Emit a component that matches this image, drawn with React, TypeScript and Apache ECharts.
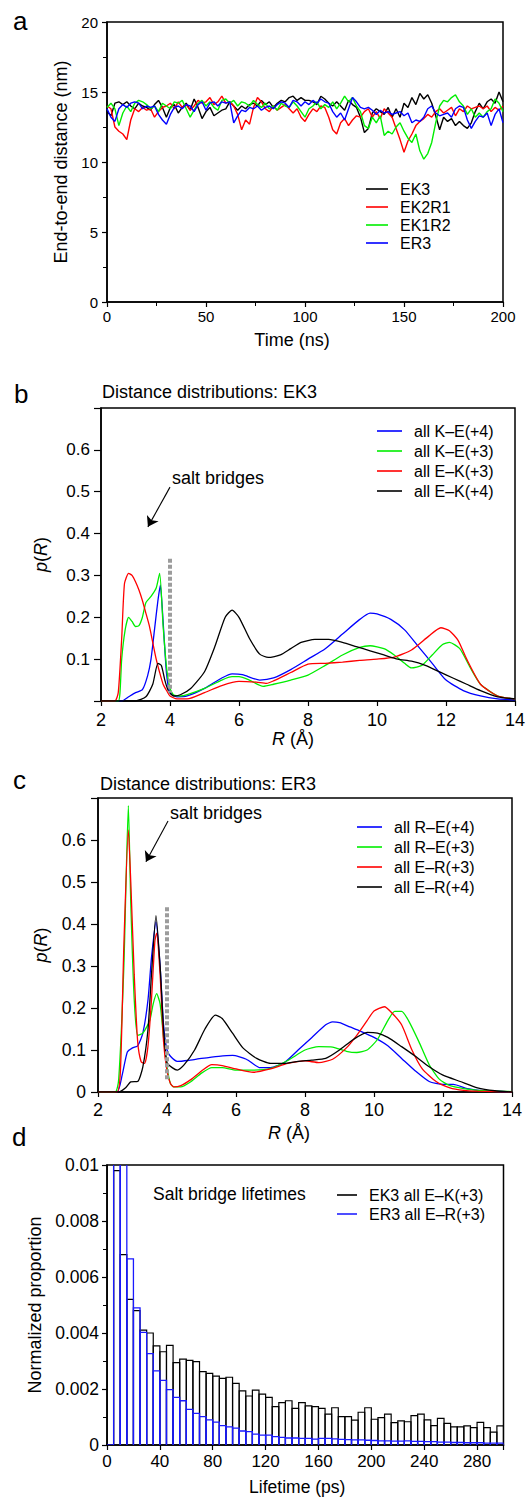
import React, { useEffect, useRef } from 'react';
import * as echarts from 'echarts';

const FONT = '"Liberation Sans", Arial, Helvetica, sans-serif';

// ---------- Panel a: end-to-end distance (nm) vs time (ns) ----------
const timeNs = [
  0, 2, 4, 6, 8, 10, 12, 14, 16, 18, 20, 22, 24, 26, 28, 30, 32, 34, 36, 38,
  40, 42, 44, 46, 48, 50, 52, 54, 56, 58, 60, 62, 64, 66, 68, 70, 72, 74, 76, 78,
  80, 82, 84, 86, 88, 90, 92, 94, 96, 98, 100, 102, 104, 106, 108, 110, 112, 114, 116, 118,
  120, 122, 124, 126, 128, 130, 132, 134, 136, 138, 140, 142, 144, 146, 148, 150, 152, 154, 156, 158,
  160, 162, 164, 166, 168, 170, 172, 174, 176, 178, 180, 182, 184, 186, 188, 190, 192, 194, 196, 198, 200,
];
const ek3Dist = [
  13.6, 13.3, 14.2, 14.3, 14.1, 14.3, 14.0, 13.8, 14.2, 14.0,
  13.9, 13.7, 14.1, 14.4, 13.9, 13.2, 13.9, 14.1, 13.5, 13.9,
  14.2, 13.7, 14.5, 13.9, 13.1, 13.6, 13.9, 13.3, 13.5, 13.7,
  13.8, 14.3, 14.0, 13.7, 14.0, 13.8, 14.1, 14.2, 14.0, 14.4,
  14.1, 14.3, 13.9, 14.2, 14.4, 14.3, 14.6, 14.7, 14.4, 14.6,
  14.4, 14.4, 14.3, 14.1, 14.7, 14.5, 14.2, 14.0, 14.3, 14.0,
  13.7, 14.4, 14.1, 13.9, 13.2, 12.1, 12.4, 13.5, 13.8, 13.6,
  13.4, 13.9, 13.2, 13.8, 13.2, 14.2, 13.9, 14.6, 14.1, 14.9,
  14.5, 14.8, 14.2, 13.3, 12.3, 13.2, 12.9, 13.1, 12.6, 12.9,
  12.6, 12.4, 12.8, 13.6, 14.2, 13.8, 14.3, 14.5, 14.2, 15.0,
  14.3,
];
const ek2r1Dist = [
  14.0, 13.8, 12.5, 12.2, 12.0, 11.6, 13.0, 13.8, 13.6, 13.9,
  13.7, 13.8, 13.2, 13.6, 13.9, 14.0, 14.2, 13.8, 14.3, 13.9,
  14.1, 13.7, 14.0, 14.4, 14.2, 14.3, 14.6, 14.1, 14.3, 14.7,
  14.2, 14.3, 14.0, 13.4, 12.3, 13.0, 12.7, 13.9, 14.6, 14.3,
  13.8, 13.6, 14.0, 13.7, 13.9, 14.1, 13.8, 13.5, 13.8, 13.2,
  12.9, 13.4, 13.8, 13.6, 14.0, 13.9, 13.2, 12.3, 12.0, 12.8,
  13.1, 12.6, 13.0, 13.3, 13.2, 13.6, 13.8, 13.2, 13.6, 13.1,
  13.8, 13.5, 13.2, 12.4, 11.6, 10.7, 11.5, 12.0, 12.6, 12.9,
  13.1, 13.4, 13.2, 13.6, 13.8, 13.5, 13.7, 13.9, 13.3, 13.8,
  13.6, 14.0, 13.8, 13.9, 14.0, 13.8, 14.0, 13.6, 13.9, 13.7,
  14.0,
];
const ek1r2Dist = [
  13.9, 14.2, 13.8, 12.6, 13.5, 14.0, 13.6, 14.2, 14.4, 14.3,
  14.1, 13.8, 14.0, 13.6, 14.2, 14.0, 13.8, 14.3, 14.2, 14.4,
  13.8, 13.2, 13.7, 14.2, 14.4, 14.0, 14.3, 13.9, 13.7, 14.4,
  14.5, 14.2, 14.4, 14.0, 14.3, 14.2, 14.0, 14.4, 14.1, 13.9,
  14.2, 13.8, 14.0, 13.7, 14.2, 14.0, 13.9, 14.3, 14.0, 13.6,
  13.2, 13.8, 14.0, 14.3, 13.8, 14.1, 13.9, 14.3, 13.8, 14.2,
  14.7, 14.3, 14.6, 14.0, 13.6, 12.6, 12.4, 13.2, 12.8, 13.3,
  11.9, 12.2, 12.0, 12.5, 12.8, 12.2, 11.7, 11.4, 12.0, 10.8,
  10.2, 10.6, 11.4, 12.8, 14.0, 14.4, 14.3, 14.6, 14.8, 14.3,
  14.0, 13.4, 13.8, 13.2, 13.5, 13.2, 13.6, 13.8, 14.5, 14.2,
  13.6,
];
const er3Dist = [
  13.8, 13.2, 12.9, 13.8, 14.1, 13.9, 14.2, 14.3, 14.2, 13.8,
  14.0, 13.9, 14.0, 13.4, 13.0, 12.7, 13.4, 13.9, 14.0, 13.8,
  14.1, 14.0, 13.6, 14.1, 14.3, 13.7, 14.2, 14.3, 14.0, 14.3,
  14.2, 14.3, 12.8, 13.3, 13.7, 13.6, 13.9, 13.8, 14.0, 13.7,
  13.9, 14.0, 13.8, 14.1, 14.3, 14.2, 13.9, 14.4, 14.3, 14.0,
  14.3, 14.1, 14.4, 14.2, 14.5, 14.3, 14.2, 13.6, 13.2, 13.5,
  13.0, 13.8, 14.6, 14.3, 13.9, 13.8, 13.9, 13.7, 13.4, 13.7,
  13.5, 13.6, 13.4, 13.5, 13.6, 13.3, 13.5, 12.8, 13.0, 12.9,
  13.2, 13.8, 14.0, 13.5, 13.3, 13.4, 13.5, 13.2, 13.8, 14.0,
  13.9, 13.0, 12.4, 12.9, 13.3, 13.2, 13.5, 12.6, 13.4, 13.8,
  12.8,
];

// ---------- Panel b: distance distributions EK3, [R (Å), p(R)] ----------
const bKE4 = [
  [2, 0], [2.6, 0], [2.8, 0.01], [3.0, 0.02], [3.2, 0.027], [3.35, 0.06], [3.45, 0.1], [3.55, 0.17],
  [3.65, 0.24], [3.72, 0.277], [3.8, 0.19], [3.9, 0.065], [4.0, 0.02], [4.2, 0.01], [4.5, 0.012],
  [5.0, 0.03], [5.5, 0.055], [5.8, 0.065], [6.1, 0.063], [6.6, 0.05], [7.0, 0.055], [7.5, 0.075],
  [8.0, 0.1], [8.5, 0.125], [9.0, 0.16], [9.5, 0.195], [9.8, 0.21], [10.0, 0.208], [10.4, 0.195],
  [10.8, 0.17], [11.2, 0.13], [11.6, 0.09], [12.0, 0.05], [12.5, 0.025], [13.0, 0.012], [13.5, 0.005], [14, 0.003],
];
const bKE3 = [
  [2, 0], [2.5, 0], [2.55, 0.02], [2.6, 0.1], [2.7, 0.17], [2.8, 0.2], [2.9, 0.19], [3.0, 0.178],
  [3.1, 0.18], [3.2, 0.2], [3.3, 0.235], [3.45, 0.25], [3.6, 0.27], [3.7, 0.305], [3.8, 0.18],
  [3.9, 0.08], [4.0, 0.03], [4.1, 0.015], [4.3, 0.012], [4.5, 0.015], [5.0, 0.03], [5.5, 0.05],
  [5.8, 0.058], [6.0, 0.058], [6.3, 0.05], [6.7, 0.035], [7.0, 0.04], [7.5, 0.05], [8.0, 0.062],
  [8.5, 0.085], [9.0, 0.11], [9.5, 0.128], [9.8, 0.132], [10.2, 0.125], [10.5, 0.11], [10.8, 0.09],
  [11.0, 0.079], [11.3, 0.085], [11.6, 0.11], [11.9, 0.135], [12.1, 0.14], [12.4, 0.125], [12.7, 0.08],
  [13.0, 0.04], [13.5, 0.012], [14, 0.005],
];
const bEK3 = [
  [2, 0], [2.4, 0], [2.5, 0.02], [2.6, 0.15], [2.68, 0.28], [2.8, 0.305], [2.9, 0.3], [3.0, 0.285],
  [3.1, 0.265], [3.2, 0.24], [3.3, 0.21], [3.4, 0.18], [3.5, 0.14], [3.6, 0.1], [3.7, 0.068],
  [3.8, 0.04], [3.9, 0.025], [4.0, 0.012], [4.2, 0.005], [4.5, 0.005], [5.0, 0.02], [5.5, 0.037],
  [6.0, 0.047], [6.5, 0.045], [6.8, 0.042], [7.0, 0.048], [7.5, 0.068], [8.0, 0.088], [8.5, 0.09],
  [9.0, 0.093], [9.5, 0.097], [10.0, 0.1], [10.5, 0.105], [11.0, 0.122], [11.5, 0.155], [11.85, 0.175],
  [12.1, 0.168], [12.35, 0.145], [12.6, 0.1], [13.0, 0.04], [13.5, 0.012], [14, 0.005],
];
const bEK4 = [
  [2, 0], [3.0, 0], [3.3, 0.01], [3.5, 0.04], [3.65, 0.09], [3.75, 0.085], [3.85, 0.05], [3.95, 0.025],
  [4.1, 0.012], [4.3, 0.015], [4.6, 0.03], [5.0, 0.07], [5.3, 0.13], [5.6, 0.2], [5.8, 0.217],
  [6.0, 0.2], [6.3, 0.15], [6.6, 0.112], [6.85, 0.104], [7.2, 0.11], [7.5, 0.125], [7.8, 0.14],
  [8.2, 0.147], [8.6, 0.147], [9.0, 0.14], [9.4, 0.13], [9.8, 0.12], [10.2, 0.11], [10.6, 0.1],
  [11.0, 0.095], [11.4, 0.085], [11.8, 0.07], [12.2, 0.055], [12.6, 0.04], [13.0, 0.025], [13.5, 0.01], [14, 0.005],
];
const bCutoff = [[4, 0.34], [4, 0.02]];
const bArrow = [[4.0, 0.511], [3.36, 0.416]];

// ---------- Panel c: distance distributions ER3 ----------
const cRE4 = [
  [2, 0], [2.55, 0], [2.7, 0.04], [2.85, 0.095], [3.0, 0.105], [3.15, 0.11], [3.3, 0.14], [3.45, 0.22],
  [3.55, 0.32], [3.68, 0.405], [3.8, 0.3], [3.9, 0.16], [4.0, 0.1], [4.1, 0.085], [4.3, 0.073],
  [4.6, 0.075], [5.0, 0.08], [5.5, 0.085], [5.9, 0.087], [6.3, 0.078], [6.7, 0.058], [7.0, 0.058],
  [7.4, 0.07], [7.8, 0.1], [8.2, 0.13], [8.6, 0.16], [8.8, 0.167], [9.0, 0.165], [9.3, 0.155],
  [9.6, 0.145], [10.0, 0.13], [10.4, 0.11], [10.8, 0.08], [11.2, 0.05], [11.6, 0.025], [12.0, 0.018],
  [12.3, 0.018], [12.7, 0.008], [13.2, 0.003], [14, 0],
];
const cRE3 = [
  [2, 0], [2.5, 0], [2.6, 0.03], [2.75, 0.3], [2.88, 0.682], [2.95, 0.45], [3.05, 0.22], [3.15, 0.135],
  [3.3, 0.14], [3.5, 0.17], [3.6, 0.21], [3.7, 0.234], [3.8, 0.21], [3.9, 0.13], [4.0, 0.06],
  [4.1, 0.02], [4.2, 0.012], [4.4, 0.012], [4.7, 0.025], [5.0, 0.045], [5.3, 0.058], [5.6, 0.058],
  [6.0, 0.052], [6.5, 0.052], [7.0, 0.056], [7.5, 0.075], [8.0, 0.1], [8.4, 0.108], [8.8, 0.107],
  [9.2, 0.097], [9.5, 0.094], [9.8, 0.1], [10.1, 0.125], [10.4, 0.17], [10.6, 0.192], [10.8, 0.192],
  [11.0, 0.17], [11.3, 0.12], [11.6, 0.065], [11.9, 0.03], [12.2, 0.015], [12.6, 0.008], [13, 0.004], [14, 0.001],
];
const cER3 = [
  [2, 0], [2.55, 0], [2.65, 0.05], [2.75, 0.35], [2.88, 0.624], [2.95, 0.5], [3.05, 0.28], [3.15, 0.12],
  [3.25, 0.072], [3.35, 0.068], [3.45, 0.11], [3.55, 0.22], [3.65, 0.36], [3.7, 0.378], [3.8, 0.28],
  [3.9, 0.12], [4.0, 0.05], [4.1, 0.02], [4.2, 0.012], [4.4, 0.015], [4.7, 0.03], [5.0, 0.05],
  [5.3, 0.065], [5.6, 0.063], [6.0, 0.055], [6.5, 0.047], [7.0, 0.055], [7.5, 0.068], [8.0, 0.074],
  [8.4, 0.07], [8.8, 0.078], [9.2, 0.105], [9.5, 0.135], [9.8, 0.17], [10.0, 0.193], [10.3, 0.203],
  [10.5, 0.19], [10.8, 0.16], [11.1, 0.1], [11.4, 0.055], [11.8, 0.025], [12.2, 0.01], [12.6, 0.004],
  [13, 0.002], [14, 0],
];
const cER4 = [
  [2, 0], [2.6, 0], [2.8, 0.01], [2.95, 0.024], [3.15, 0.025], [3.3, 0.06], [3.45, 0.15], [3.55, 0.28],
  [3.68, 0.42], [3.8, 0.3], [3.9, 0.15], [4.0, 0.07], [4.15, 0.058], [4.3, 0.052], [4.5, 0.065],
  [4.8, 0.1], [5.1, 0.15], [5.4, 0.183], [5.6, 0.175], [5.9, 0.14], [6.2, 0.105], [6.6, 0.08],
  [7.0, 0.068], [7.4, 0.068], [7.8, 0.073], [8.2, 0.076], [8.6, 0.08], [9.0, 0.1], [9.4, 0.125],
  [9.8, 0.142], [10.1, 0.14], [10.4, 0.13], [10.8, 0.108], [11.2, 0.085], [11.6, 0.06], [12.0, 0.04],
  [12.5, 0.025], [13, 0.01], [13.5, 0.003], [14, 0],
];
const cCutoff = [[4, 0.44], [4, 0.03]];
const cArrow = [[4.03, 0.645], [3.39, 0.548]];

// ---------- Panel d: salt bridge lifetime histograms (5 ps bins, bin start in ps) ----------
const binWidthPs = 5;
const lifetimeBinStart = [
  0, 5, 10, 15, 20, 25, 30, 35, 40, 45, 50, 55, 60, 65, 70, 75, 80, 85, 90, 95,
  100, 105, 110, 115, 120, 125, 130, 135, 140, 145, 150, 155, 160, 165, 170, 175, 180, 185, 190, 195,
  200, 205, 210, 215, 220, 225, 230, 235, 240, 245, 250, 255, 260, 265, 270, 275, 280, 285, 290, 295,
];
const ek3Lifetimes = [
  0.02, 0.0098, 0.0068, 0.0052, 0.0048, 0.0041, 0.0040, 0.00354, 0.00333, 0.00356,
  0.00294, 0.00307, 0.00302, 0.00298, 0.00262, 0.00256, 0.00246, 0.00238, 0.00242, 0.0022,
  0.00193, 0.00175, 0.00196, 0.00182, 0.0017, 0.00137, 0.00151, 0.00158, 0.00131, 0.00151,
  0.0014, 0.00137, 0.00131, 0.0011, 0.00133, 0.00101, 0.00101, 0.00089, 0.00117, 0.00133,
  0.00092, 0.00098, 0.0011, 0.0008, 0.00086, 0.00083, 0.00105, 0.0011, 0.0009, 0.00069,
  0.00095, 0.00077, 0.00065, 0.00065, 0.00068, 0.00062, 0.00081, 0.00062, 0.00046, 0.00068,
];
const er3Lifetimes = [
  0, 0.02, 0.02, 0.00665, 0.0049, 0.00402, 0.00326, 0.00265, 0.00231, 0.00198,
  0.0017, 0.00158, 0.00127, 0.00113, 0.00101, 0.0009, 0.00082, 0.00069, 0.00065, 0.0006,
  0.0005, 0.00048, 0.00039, 0.00035, 0.00035, 0.0003, 0.00027, 0.00025, 0.00025, 0.00024,
  0.00024, 0.00021, 0.00024, 0.00024, 0.00022, 0.0002, 0.00019, 0.00018, 0.00018, 0.00017,
  0.00016, 0.00015, 0.00015, 0.00014, 0.00014, 0.00015, 0.00013, 0.00013, 0.00012, 0.00012,
  0.0001, 0.0001, 0.00009, 0.00009, 0.00008, 0.00008, 0.00008, 0.00007, 0.00007, 0.00007,
];

const BLACK = '#000000';
const RED = '#ff0000';
const GREEN = '#00ee00';
const BLUE = '#0000ff';
const HIST_BLUE = '#1a1aff';
const GREY = '#9c9c9c';
const D_YMAX = 0.01;

function axisBase(fontSize: number, margin: number, tickLen = 5) {
  return {
    type: 'value',
    axisLine: { show: true, onZero: false, lineStyle: { color: '#000', width: 1.5 } },
    axisTick: { show: true, inside: false, length: tickLen, lineStyle: { color: '#000', width: 1.2 } },
    splitLine: { show: false },
    axisLabel: { color: '#000', fontSize, fontFamily: FONT, margin },
  };
}

function nameStyle(fontSize: number, padding?: number[]) {
  return {
    color: '#000',
    fontSize,
    fontFamily: FONT,
    padding: padding || 0,
    rich: {
      i: { fontStyle: 'italic', fontSize, fontFamily: FONT, color: '#000' },
    },
  };
}

function lineSeries(name: string, data: number[][], color: string, idx: number) {
  return {
    name,
    type: 'line',
    xAxisIndex: idx,
    yAxisIndex: idx,
    data,
    symbol: 'none',
    showSymbol: false,
    smooth: 0.2,
    color,
    lineStyle: { color, width: 1.3 },
    emphasis: { disabled: true },
    silent: true,
    z: 3,
  };
}

function cutoffSeries(name: string, data: number[][], arrow: number[][], idx: number) {
  return {
    name,
    type: 'line',
    xAxisIndex: idx,
    yAxisIndex: idx,
    data,
    symbol: 'none',
    color: GREY,
    lineStyle: { color: GREY, width: 4, type: [4, 2], cap: 'butt' },
    silent: true,
    z: 4,
    markLine: {
      silent: true,
      symbol: ['none', 'arrow'],
      symbolSize: 10,
      label: { show: false },
      emphasis: { disabled: true },
      lineStyle: { color: '#000', width: 1.1, type: 'solid' },
      itemStyle: { color: '#000' },
      data: [[{ coord: arrow[0] }, { coord: arrow[1] }]],
    },
  };
}

// Outlined histogram bars drawn through the axis scales (api.coord).
function histSeries(name: string, values: number[], color: string, width: number, z: number) {
  return {
    name,
    type: 'custom',
    xAxisIndex: 3,
    yAxisIndex: 3,
    color,
    z,
    silent: true,
    clip: true,
    data: lifetimeBinStart.map((s, i) => [s, values[i]]),
    renderItem: (params: any, api: any) => {
      const start = api.value(0);
      const v = api.value(1);
      const bottomLeft = api.coord([start, 0]);
      const clipped = v > D_YMAX;
      const topRight = api.coord([start + binWidthPs, clipped ? D_YMAX : v]);
      const x0 = bottomLeft[0];
      const x1 = topRight[0];
      const yb = bottomLeft[1];
      const yt = clipped ? topRight[1] - 3 : topRight[1];
      return {
        type: 'polyline',
        shape: { points: [[x0, yb], [x0, yt], [x1, yt], [x1, yb]] },
        style: { fill: 'none', stroke: color, lineWidth: width },
        clipPath: {
          type: 'rect',
          shape: {
            x: params.coordSys.x,
            y: params.coordSys.y,
            width: params.coordSys.width,
            height: params.coordSys.height,
          },
        },
      };
    },
  };
}

function legendBase(left: number, top: number, itemWidth: number, fontSize: number, itemGap: number) {
  return {
    orient: 'vertical',
    left,
    top,
    padding: 0,
    icon: 'rect',
    itemWidth,
    itemHeight: 1.6,
    itemGap,
    selectedMode: false,
    itemStyle: { borderWidth: 0 },
    textStyle: { color: '#000', fontSize, fontFamily: FONT, padding: [0, 0, 0, 7] },
  };
}

function textEl(text: string, x: number, y: number, size: number) {
  return {
    type: 'text',
    x,
    y,
    silent: true,
    style: {
      text,
      font: `${size}px ${FONT}`,
      fill: '#000',
      textAlign: 'left',
      textVerticalAlign: 'middle',
    },
  };
}

function buildOption() {
  const aSeries = [
    { name: 'EK3', arr: ek3Dist, color: BLACK },
    { name: 'EK2R1', arr: ek2r1Dist, color: RED },
    { name: 'EK1R2', arr: ek1r2Dist, color: GREEN },
    { name: 'ER3', arr: er3Dist, color: BLUE },
  ].map((s) => ({
    name: s.name,
    type: 'line',
    xAxisIndex: 0,
    yAxisIndex: 0,
    data: timeNs.map((t, i) => [t, s.arr[i]]),
    symbol: 'none',
    showSymbol: false,
    color: s.color,
    lineStyle: { color: s.color, width: 1.4 },
    emphasis: { disabled: true },
    silent: true,
  }));

  const gridBase = { show: true, borderColor: '#000', borderWidth: 1.5, backgroundColor: 'transparent', outerBoundsMode: 'none' };

  return {
    animation: false,
    backgroundColor: '#ffffff',
    grid: [
      { ...gridBase, left: 107, top: 22, width: 396, height: 280 },
      { ...gridBase, left: 101, top: 408, width: 414, height: 293 },
      { ...gridBase, left: 98, top: 798, width: 414, height: 294 },
      { ...gridBase, left: 107, top: 1165, width: 396.5, height: 280 },
    ],
    xAxis: [
      {
        ...axisBase(15, 7),
        gridIndex: 0,
        min: 0,
        max: 200,
        interval: 50,
        minorTick: { show: true, splitNumber: 2, length: 4, lineStyle: { color: '#000', width: 1 } },
        name: 'Time (ns)',
        nameLocation: 'middle',
        nameGap: 29,
        nameTextStyle: nameStyle(18, [0, 26, 0, 0]),
      },
      {
        ...axisBase(18, 10),
        gridIndex: 1,
        min: 2,
        max: 14,
        interval: 2,
        name: '{i|R} (Å)',
        nameLocation: 'middle',
        nameGap: 27,
        nameTextStyle: nameStyle(18, [0, 30, 0, 0]),
      },
      {
        ...axisBase(18, 9),
        gridIndex: 2,
        min: 2,
        max: 14,
        interval: 2,
        name: '{i|R} (Å)',
        nameLocation: 'middle',
        nameGap: 32,
        nameTextStyle: nameStyle(18, [0, 32, 0, 0]),
      },
      {
        ...axisBase(17, 8),
        gridIndex: 3,
        min: 0,
        max: 300,
        interval: 40,
        axisLabel: {
          color: '#000',
          fontSize: 17,
          fontFamily: FONT,
          margin: 8,
          formatter: (v: number) => (v >= 300 ? '' : String(v)),
        },
        name: 'Lifetime (ps)',
        nameLocation: 'middle',
        nameGap: 33,
        nameTextStyle: nameStyle(17.5, [0, 16, 0, 0]),
      },
    ],
    yAxis: [
      {
        ...axisBase(15, 9),
        gridIndex: 0,
        min: 0,
        max: 20,
        interval: 5,
        minorTick: { show: true, splitNumber: 2, length: 4, lineStyle: { color: '#000', width: 1 } },
        name: 'End-to-end distance (nm)',
        nameLocation: 'middle',
        nameGap: 33,
        nameTextStyle: nameStyle(18),
      },
      {
        ...axisBase(17, 11, 7),
        gridIndex: 1,
        min: 0,
        max: 0.7,
        interval: 0.1,
        axisLabel: {
          color: '#000',
          fontSize: 17,
          fontFamily: FONT,
          margin: 11,
          formatter: (v: number) => (v < 0.05 || v > 0.65 ? '' : v.toFixed(1)),
        },
        name: '{i|p}({i|R})',
        nameLocation: 'middle',
        nameGap: 51,
        nameTextStyle: nameStyle(18),
      },
      {
        ...axisBase(17.5, 12, 7),
        gridIndex: 2,
        min: 0,
        max: 0.7,
        interval: 0.1,
        axisLabel: {
          color: '#000',
          fontSize: 17.5,
          fontFamily: FONT,
          margin: 12,
          formatter: (v: number) => (v > 0.65 ? '' : v === 0 ? '0' : v.toFixed(1)),
        },
        name: '{i|p}({i|R})',
        nameLocation: 'middle',
        nameGap: 48,
        nameTextStyle: nameStyle(18),
      },
      {
        ...axisBase(17.5, 8),
        gridIndex: 3,
        min: 0,
        max: D_YMAX,
        interval: 0.002,
        minorTick: { show: true, splitNumber: 2, length: 4, lineStyle: { color: '#000', width: 1 } },
        axisLabel: {
          color: '#000',
          fontSize: 17.5,
          fontFamily: FONT,
          margin: 8,
          formatter: (v: number) => (v === 0 ? '0' : String(parseFloat(v.toFixed(3)))),
        },
        name: 'Normalized proportion',
        nameLocation: 'middle',
        nameGap: 63,
        nameTextStyle: nameStyle(18),
      },
    ],
    legend: [
      { ...legendBase(366, 181, 22, 16, 2), data: ['EK3', 'EK2R1', 'EK1R2', 'ER3'] },
      { ...legendBase(377, 423, 25, 16, 4), data: ['all K–E(+4)', 'all K–E(+3)', 'all E–K(+3)', 'all E–K(+4)'] },
      { ...legendBase(357, 819, 25, 16, 4), data: ['all R–E(+4)', 'all R–E(+3)', 'all E–R(+3)', 'all E–R(+4)'] },
      {
        ...legendBase(337, 1187, 20, 16, 3),
        data: [
          { name: 'EK3 all E–K(+3)', itemStyle: { color: BLACK, borderWidth: 0 } },
          { name: 'ER3 all E–R(+3)', itemStyle: { color: '#2222ff', borderWidth: 0 } },
        ],
      },
    ],
    graphic: [
      textEl('a', 13, 21, 26),
      textEl('b', 14, 394, 26),
      textEl('c', 13, 780, 26),
      textEl('d', 12, 1137, 26),
      textEl('Distance distributions: EK3', 102, 391.5, 18),
      textEl('Distance distributions: ER3', 100, 783.5, 18),
      textEl('salt bridges', 172, 478, 18),
      textEl('salt bridges', 170, 813, 18),
      textEl('Salt bridge lifetimes', 153, 1194, 17.5),
    ],
    series: [
      ...aSeries,
      lineSeries('all K–E(+4)', bKE4, BLUE, 1),
      lineSeries('all K–E(+3)', bKE3, GREEN, 1),
      lineSeries('all E–K(+3)', bEK3, RED, 1),
      lineSeries('all E–K(+4)', bEK4, BLACK, 1),
      cutoffSeries('cutoff b', bCutoff, bArrow, 1),
      lineSeries('all R–E(+4)', cRE4, BLUE, 2),
      lineSeries('all R–E(+3)', cRE3, GREEN, 2),
      lineSeries('all E–R(+3)', cER3, RED, 2),
      lineSeries('all E–R(+4)', cER4, BLACK, 2),
      cutoffSeries('cutoff c', cCutoff, cArrow, 2),
      histSeries('EK3 all E–K(+3)', ek3Lifetimes, BLACK, 1.2, 2),
      histSeries('ER3 all E–R(+3)', er3Lifetimes, HIST_BLUE, 1.3, 3),
    ],
  };
}

export default function App() {
  const ref = useRef<HTMLDivElement>(null);
  useEffect(() => {
    if (!ref.current) return;
    const chart = echarts.init(ref.current, null, { renderer: 'svg' });
    chart.setOption(buildOption() as any);
    return () => {
      chart.dispose();
    };
  }, []);
  return (
    <div
      ref={ref}
      style={{ position: 'absolute', left: 0, top: 0, width: 528, height: 1497, background: '#fff' }}
    />
  );
}
